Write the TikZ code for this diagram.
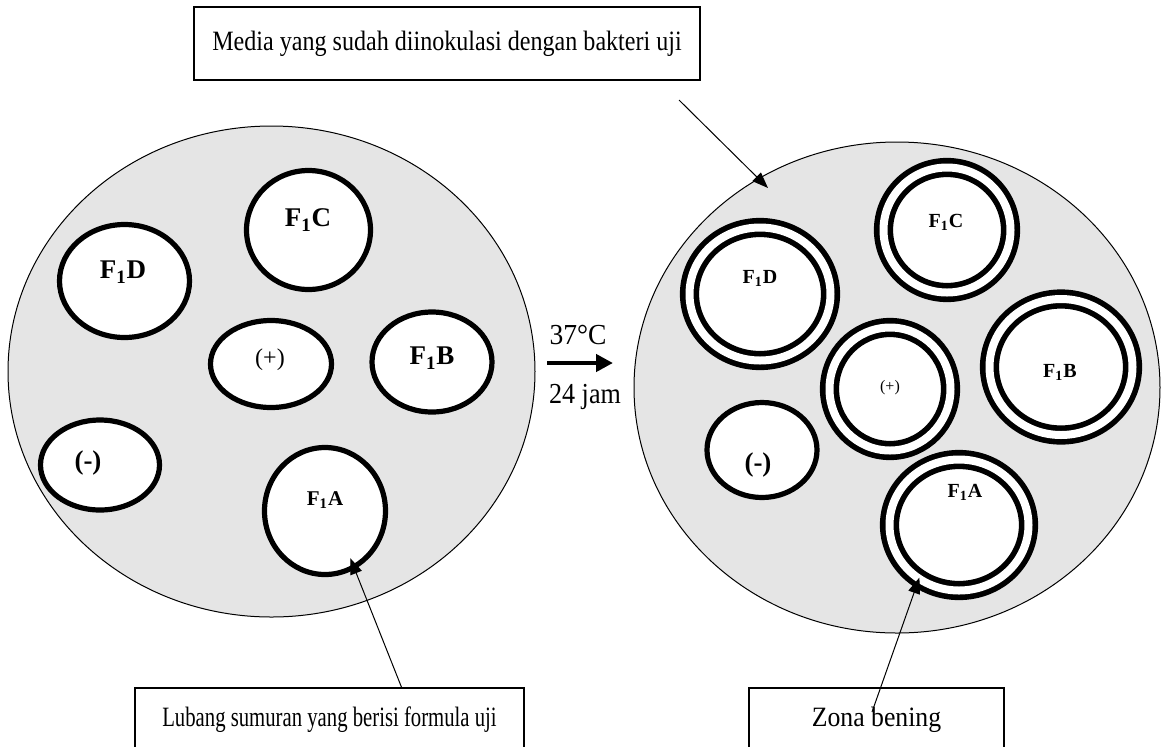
\documentclass[tikz,border=0pt]{standalone}
\usepackage{fontspec}
\setmainfont{Liberation Serif}
\usetikzlibrary{shapes.geometric,arrows.meta,positioning}

\begin{document}
\begin{tikzpicture}[x=0.5pt,y=-0.5pt,
  plate/.style={ellipse,draw,fill=black!10,line width=0.5pt,inner sep=0pt},
  well/.style={ellipse,draw,fill=white,line width=2.6pt,inner sep=0pt},
  zone/.style={well,line width=2.8pt,double=white,double distance=4pt},
  pointer/.style={-{Triangle[length=8pt,width=6pt]},line width=0.5pt},
  caption/.style={draw,line width=0.8pt,inner sep=0pt,font=\fontsize{14}{16}\selectfont}
]

\useasboundingbox (0,0) rectangle (1164,746);
\clip (0,0) rectangle (1164,746);

\node[plate,minimum width=263.5pt,minimum height=245.5pt] (plateL) at (271.5,371.5) {};
\node[plate,minimum width=263pt,minimum height=245.5pt] (plateR) at (897,387.5) {};

\node[well,minimum width=65pt,minimum height=56.5pt] (lD) at (124.5,281) {};
\node[well,minimum width=62pt,minimum height=59.5pt] (lC) at (308.5,230) {};
\node[well,minimum width=60.5pt,minimum height=43.5pt] (lP) at (271,364) {};
\node[well,minimum width=60pt,minimum height=50pt] (lB) at (432,362) {};
\node[well,minimum width=59.5pt,minimum height=45pt] (lM) at (100,465) {};
\node[well,minimum width=60.5pt,minimum height=63.5pt] (lA) at (325,511) {};

\path (123,272) node[font=\fontsize{13.5}{15}\bfseries] {F\textsubscript{1}D};
\path (308,220) node[font=\fontsize{13.5}{15}\bfseries] {F\textsubscript{1}C};
\path (270,360) node[font=\fontsize{12}{14}\selectfont] {(+)};
\path (432,358) node[font=\fontsize{13.5}{15}\bfseries] {F\textsubscript{1}B};
\path (88,463) node[font=\fontsize{13.5}{15}\bfseries] {(-)};
\path (325,500) node[font=\fontsize{10.5}{12}\bfseries] {F\textsubscript{1}A};

\node[zone,minimum width=70.5pt,minimum height=66.5pt] (rD) at (760,294) {};
\node[zone,minimum width=63.5pt,minimum height=62.5pt] (rC) at (947,230) {};
\node[zone,minimum width=60.5pt,minimum height=61.5pt] (rP) at (890,389) {};
\node[zone,minimum width=71.5pt,minimum height=68pt] (rB) at (1061,367) {};
\node[well,minimum width=55pt,minimum height=47.5pt] (rM) at (762,450) {};
\node[zone,minimum width=69.5pt,minimum height=65.5pt] (rA) at (959,525) {};

\path (760,278) node[font=\fontsize{10}{12}\bfseries] {F\textsubscript{1}D};
\path (946,222) node[font=\fontsize{10}{12}\bfseries] {F\textsubscript{1}C};
\path (890,388) node[font=\fontsize{8}{10}\selectfont] {(+)};
\path (1060,372) node[font=\fontsize{10}{12}\bfseries] {F\textsubscript{1}B};
\path (758,465) node[font=\fontsize{13.5}{15}\bfseries] {(-)};
\path (965,492) node[font=\fontsize{10}{12}\bfseries] {F\textsubscript{1}A};

\node[caption,minimum width=253pt,minimum height=36.5pt] (media) at (447,43.5) {\scalebox{0.86}[1]{Media yang sudah diinokulasi dengan bakteri uji}};
\node[caption,minimum width=194.5pt,minimum height=32pt] (lubang) at (329.5,720) {\scalebox{0.74}[1]{Lubang sumuran yang berisi formula uji}};
\node[caption,minimum width=127.5pt,minimum height=32pt] (zona) at (876.5,720) {\scalebox{0.92}[1]{Zona bening}};

\coordinate (mediatail) at (679,100);
\coordinate (mediatip) at (768,188);
\coordinate (zonatail) at (872,712);
\coordinate (warmstart) at (547,363);
\coordinate (warmend) at (613,363);

\draw[pointer] (mediatail) -- (mediatip);
\draw[pointer,shorten >=-6pt] ([xshift=36pt]lubang.north) -- (lA.-63);
\draw[pointer,shorten >=-2pt] (zonatail) -- (rA.-126);
\draw[-{Triangle[length=8.5pt,width=8.5pt]},line width=2.3pt] (warmstart) -- (warmend);

\path (578,335) node[font=\fontsize{14.5}{16}\selectfont] {\scalebox{0.95}[1]{37°C}};
\path (585,397) node[font=\fontsize{14.5}{16}\selectfont] {\scalebox{0.9}[1]{24 jam}};

\end{tikzpicture}
\end{document}
